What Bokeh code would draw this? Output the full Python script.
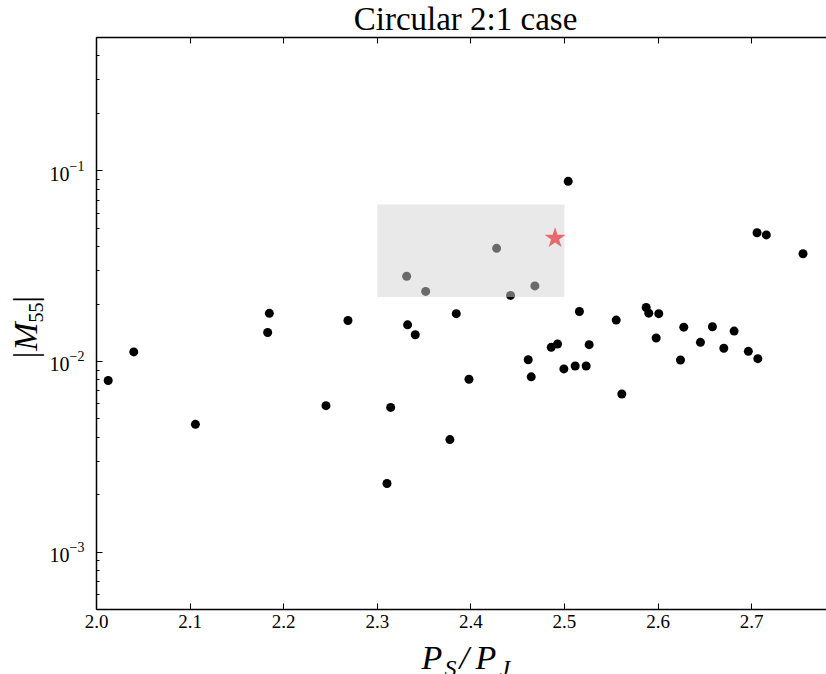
import math
from bokeh.plotting import figure
from bokeh.layouts import column, row
from bokeh.models import Range1d, LinearAxis, ColumnDataSource, PrintfTickFormatter
from bokeh.embed import file_html
from bokeh.resources import INLINE

# Period ratio P_S/P_J and |M55| for each run
ratio = [2.0125, 2.0398, 2.1057, 2.1847, 2.1829, 2.2452, 2.2687, 2.3104, 2.3143,
         2.3314, 2.3324, 2.3406, 2.3517, 2.3776, 2.3844, 2.3980, 2.4275, 2.4424,
         2.4613, 2.4645, 2.4684, 2.4859, 2.4926, 2.4994, 2.5040, 2.5115, 2.5160,
         2.5232, 2.5264, 2.5553, 2.5613, 2.5873, 2.5901, 2.6008, 2.5980, 2.6240,
         2.6275, 2.6453, 2.6581, 2.6703, 2.6813, 2.6965, 2.7066, 2.7058, 2.7157,
         2.7549]
m55 = [0.00794, 0.01122, 0.00468, 0.01787, 0.01418, 0.00586, 0.0164, 0.00229, 0.00574,
       0.02796, 0.01556, 0.0138, 0.0233, 0.00389, 0.0178, 0.00807, 0.0392, 0.0222,
       0.0102, 0.0083, 0.0249, 0.01186, 0.01234, 0.00914, 0.0880, 0.00947, 0.01828,
       0.00947, 0.01225, 0.01648, 0.00675, 0.01918, 0.01791, 0.0178, 0.01327, 0.01018,
       0.01513, 0.01259, 0.0152, 0.01172, 0.01443, 0.0113, 0.01034, 0.0473, 0.0461,
       0.0367]

# Observed Solar System value and the allowed region around it
solar_ratio = [2.49]
solar_m55 = [0.0443]
region_x = [2.3, 2.5]
region_y = [0.0218, 0.0665]

TITLE = "Circular 2:1 case"
SERIF = "Liberation Serif"

W, H = 826, 674
TITLE_H = 32      # strip above the plot for the title
LEFT_W = 46       # strip left of the plot for the y label
XLAB_H = 34       # strip below the plot for the x label
MAIN_H = H - TITLE_H - XLAB_H

# ---- main scatter plot -------------------------------------------------
p = figure(width=W - LEFT_W, height=MAIN_H,
           x_range=Range1d(2.0, 2.78), y_range=Range1d(5e-4, 0.5),
           y_axis_type="log", output_backend="svg", toolbar_location=None,
           min_border_left=50, min_border_right=0, min_border_top=5,
           min_border_bottom=31)
p.outline_line_color = None
p.xgrid.visible = False
p.ygrid.visible = False
p.background_fill_color = "white"
p.border_fill_color = "white"

src = ColumnDataSource(dict(x=ratio, y=m55))
p.scatter("x", "y", source=src, size=9, fill_color="black", line_color=None)

# translucent box drawn over the points
p.quad(left=[region_x[0]], right=[region_x[1]], bottom=[region_y[0]], top=[region_y[1]],
       fill_color="lightgray", fill_alpha=0.5, line_color=None)

p.scatter(solar_ratio, solar_m55, marker="star", size=22,
          fill_color="#e8686b", line_color=None)


def style_axis(ax):
    ax.axis_line_color = "black"
    ax.axis_line_width = 1.5
    ax.major_tick_line_color = "black"
    ax.major_tick_line_width = 1
    ax.major_tick_in = 6
    ax.major_tick_out = 0
    ax.minor_tick_line_color = "black"
    ax.minor_tick_in = 3
    ax.minor_tick_out = 0
    ax.major_label_text_font = SERIF
    ax.major_label_text_font_size = "19px"
    ax.major_label_text_color = "black"


xax = p.xaxis[0]
style_axis(xax)
xax.minor_tick_line_color = None
xax.major_label_standoff = 5
xax.formatter = PrintfTickFormatter(format="%.1f")

yax = p.yaxis[0]
style_axis(yax)
yax.major_label_standoff = 12
yax.major_label_text_font_size = "20px"

# top spine with inward ticks and no labels
top = LinearAxis()
style_axis(top)
top.minor_tick_line_color = None
top.major_label_text_color = None
top.major_label_text_font_size = "1px"
top.major_label_standoff = 0
p.add_layout(top, "above")


# ---- text strips ---------------------------------------------------------
def strip(width, height):
    f = figure(width=width, height=height, x_range=Range1d(0, width),
               y_range=Range1d(0, height), output_backend="svg",
               toolbar_location=None, x_axis_type=None, y_axis_type=None,
               min_border=0)
    f.outline_line_color = None
    f.xgrid.visible = False
    f.ygrid.visible = False
    f.background_fill_color = "white"
    f.border_fill_color = "white"
    return f


def put(f, x, y, text, size, italic=True, angle=0.0, align="left"):
    f.text(x=[x], y=[y], text=[text], angle=angle, text_align=align,
           text_baseline="alphabetic", text_font={"value": SERIF},
           text_font_size={"value": size},
           text_font_style="italic" if italic else "normal",
           text_color="black")


title_fig = strip(W, TITLE_H)
put(title_fig, 465, 14, TITLE, "33px", italic=False, align="center")

# y label |M_55|, reading upwards
ylab = strip(LEFT_W, MAIN_H)
up = math.pi / 2
put(ylab, 25, 265, "|M", "34px", angle=up)
put(ylab, 35, 305, "55", "20px", italic=False, angle=up)
put(ylab, 25, 326, "|", "34px", italic=False, angle=up)

# x label P_S/P_J
xlab = strip(W, XLAB_H)
put(xlab, 421, 17, "P", "34px")
put(xlab, 444, 7, "S", "24px")
put(xlab, 459, 17, "/", "34px")
put(xlab, 475, 17, "P", "34px")
put(xlab, 499, 7, "J", "24px")

layout = column(title_fig, row(ylab, p), xlab)

open("out.html", "w").write(file_html(layout, INLINE))
